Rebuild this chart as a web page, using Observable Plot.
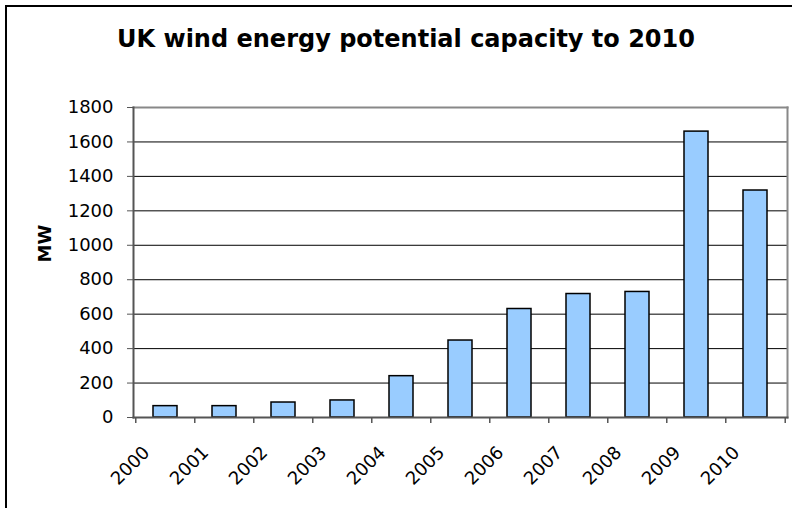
<!DOCTYPE html>
<html>
<head>
<meta charset="utf-8">
<script src="https://cdn.jsdelivr.net/npm/d3@7"></script>
<script src="https://cdn.jsdelivr.net/npm/@observablehq/plot@0.6"></script>
<style>
  html, body { margin: 0; padding: 0; background: #fff; }
  #wrap { position: relative; width: 792px; height: 508px; overflow: hidden; background: #fff; }
  #frame { position: absolute; left: 5px; top: 5px; width: 900px; height: 700px; border: 2px solid #000; box-sizing: border-box; }
  #title { position: absolute; left: 0; width: 812px; top: 25px; text-align: center; font-family: "DejaVu Sans", Verdana, sans-serif; font-weight: bold; font-size: 24px; line-height: 28px; color: #000; }
  #chart { position: absolute; left: 0; top: 0; }
</style>
</head>
<body>
<div id="wrap">
  <div id="frame"></div>
  <div id="title">UK wind energy potential capacity to 2010</div>
  <div id="chart"></div>
</div>
<script>
const years = ["2000","2001","2002","2003","2004","2005","2006","2007","2008","2009","2010"];
const capacityMW = [66, 66, 87, 99, 240, 447, 630, 717, 729, 1660, 1318];
const yTicks = [0, 200, 400, 600, 800, 1000, 1200, 1400, 1600, 1800];
const yLabel = "MW";

const data = years.map((y, i) => ({year: y, mw: capacityMW[i]}));

const W = 792, H = 508;
const mL = 133, mR = 5, mT = 107, mB = 91;
const plotH = H - mT - mB;
const step = (W - mL - mR) / years.length;

const plot = Plot.plot({
  width: W,
  height: H,
  marginLeft: mL,
  marginRight: mR,
  marginTop: mT,
  marginBottom: mB,
  style: {background: "transparent", fontFamily: "'DejaVu Sans', Verdana, sans-serif", fontSize: "18px", color: "#000", overflow: "visible"},
  x: {type: "band", domain: years, paddingInner: 0.6, paddingOuter: 0.3},
  y: {type: "linear", domain: [0, 1800]},
  marks: [
    Plot.gridY(yTicks, {stroke: "#000", strokeOpacity: 1, strokeWidth: 1}),
    Plot.frame({stroke: "#888", strokeWidth: 2, anchor: "top"}),
    Plot.frame({stroke: "#888", strokeWidth: 2, anchor: "right"}),
    Plot.barY(data, {x: "year", y: "mw", fill: "#99CCFF", stroke: "#000", strokeWidth: 1.5}),
    Plot.frame({stroke: "#555", strokeWidth: 2, anchor: "bottom"}),
    Plot.frame({stroke: "#555", strokeWidth: 2, anchor: "left"}),
    Plot.axisY(yTicks, {tickSize: 6, tickPadding: 14, tickFormat: d => String(d), label: null, stroke: "#555", fontSize: 18}),
    Plot.axisX({tickSize: 0, tickPadding: 10, tickRotate: -45, label: null, fontSize: 18, dx: -19, dy: 22}),
    // category boundary ticks
    Plot.ruleX(years, {x: d => d, dx: -step / 2, insetTop: plotH, insetBottom: -6, stroke: "#555", strokeWidth: 1.5}),
    Plot.ruleX([years[years.length - 1]], {x: d => d, dx: step / 2, insetTop: plotH, insetBottom: -6, stroke: "#555", strokeWidth: 1.5}),
    Plot.text([yLabel], {frameAnchor: "left", dx: -88, rotate: -90, fontWeight: "bold", fontSize: 18, text: d => d})
  ]
});
document.getElementById("chart").appendChild(plot);
</script>
</body>
</html>
